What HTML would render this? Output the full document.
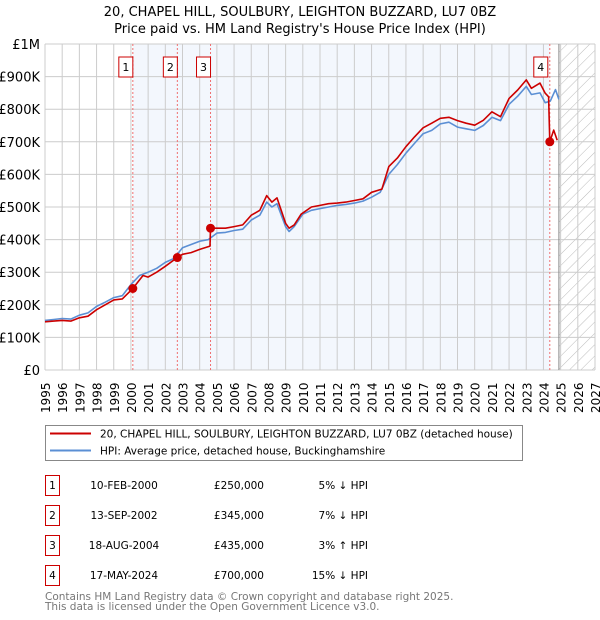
<!DOCTYPE html>
<html><head><meta charset="utf-8">
<style>
body{margin:0;background:#fff;font-family:"Liberation Sans","DejaVu Sans",sans-serif;}
#wrap{position:relative;width:600px;height:620px;overflow:hidden;}
svg text{font-family:"DejaVu Sans","Liberation Sans",sans-serif;}
</style></head>
<body><div id="wrap">
<svg id="svg" width="600" height="620" style="position:absolute;left:0;top:0"></svg>
</div>
<script>
const yearTicks=[1995,1996,1997,1998,1999,2000,2001,2002,2003,2004,2005,2006,2007,2008,2009,2010,2011,2012,2013,2014,2015,2016,2017,2018,2019,2020,2021,2022,2023,2024,2025,2026,2027];
const valueTicks=[0,100000,200000,300000,400000,500000,600000,700000,800000,900000,1000000];
const valueTickLabels=["£0","£100K","£200K","£300K","£400K","£500K","£600K","£700K","£800K","£900K","£1M"];
const hpiYears=[1995,1995.5,1996,1996.5,1997,1997.5,1998,1998.5,1999,1999.5,2000,2000.5,2001,2001.5,2002,2002.5,2003,2003.5,2004,2004.5,2005,2005.5,2006,2006.5,2007,2007.5,2007.9,2008.2,2008.5,2009,2009.2,2009.5,2010,2010.5,2011,2011.5,2012,2012.5,2013,2013.5,2014,2014.5,2015,2015.5,2016,2016.5,2017,2017.5,2018,2018.5,2019,2019.5,2020,2020.5,2021,2021.5,2022,2022.5,2023,2023.3,2023.8,2024.1,2024.4,2024.7,2024.9];
const hpiValues=[152000,155000,158000,156000,168000,175000,195000,208000,222000,228000,262000,290000,300000,312000,330000,342000,375000,385000,395000,400000,420000,422000,428000,432000,460000,475000,515000,500000,510000,440000,425000,440000,478000,490000,495000,500000,505000,508000,512000,518000,530000,545000,600000,630000,665000,695000,725000,735000,755000,760000,745000,740000,735000,750000,775000,765000,815000,840000,870000,845000,850000,820000,825000,860000,830000];
const redYears=[1995,1995.5,1996,1996.5,1997,1997.5,1998,1998.5,1999,1999.5,2000.11,2000.7,2001,2001.5,2002,2002.7,2003,2003.5,2004,2004.6,2004.63,2005,2005.5,2006,2006.5,2007,2007.5,2007.9,2008.2,2008.5,2009,2009.2,2009.5,2009.9,2010.5,2011,2011.5,2012,2012.5,2013,2013.5,2014,2014.6,2015,2015.5,2016,2016.5,2017,2017.5,2018,2018.5,2019,2019.5,2020,2020.5,2021,2021.5,2022,2022.5,2023,2023.3,2023.8,2024.1,2024.3,2024.37,2024.6,2024.8];
const redValues=[148000,150000,152000,150000,160000,165000,185000,200000,215000,218000,250000,290000,285000,300000,318000,345000,355000,360000,370000,380000,435000,435000,435000,440000,445000,475000,490000,535000,515000,528000,450000,435000,445000,478000,500000,505000,510000,512000,515000,520000,525000,545000,555000,624000,650000,685000,715000,743000,757000,772000,775000,765000,757000,751000,766000,792000,777000,833000,859000,890000,864000,880000,849000,838000,700000,736000,705000];
const saleLabels=["1","2","3","4"];
const saleYears=[2000.11,2002.70,2004.63,2024.37];
const saleValues=[250000,345000,435000,700000];

const L=45,R=595,T=44,B=370,Y0=1995,Y1=2027;
const xs=y=>L+(y-Y0)/(Y1-Y0)*(R-L);
const ys=v=>B-v/1000000*(B-T);
const svg=document.getElementById('svg');
const NS='http://www.w3.org/2000/svg';
function mk(tag,attrs,parent){const e=document.createElementNS(NS,tag);for(const k in attrs)e.setAttribute(k,attrs[k]);(parent||svg).appendChild(e);return e;}

const defs=mk('defs',{});
const pat=mk('pattern',{id:'hatch',width:8,height:8,patternUnits:'userSpaceOnUse',patternTransform:'rotate(45)'},defs);
mk('line',{x1:0,y1:0,x2:0,y2:8,stroke:'#bbb','stroke-width':1},pat);

let t=mk('text',{x:300,y:16,'text-anchor':'middle','font-size':13,fill:'#000'});t.textContent='20, CHAPEL HILL, SOULBURY, LEIGHTON BUZZARD, LU7 0BZ';

t=mk('text',{x:300,y:33,'text-anchor':'middle','font-size':13,fill:'#000'});t.textContent="Price paid vs. HM Land Registry's House Price Index (HPI)";


let r=mk('rect',{x:xs(saleYears[0]),y:T,width:xs(saleYears[3])-xs(saleYears[0]),height:B-T,fill:'#eef3fc',opacity:0.7});

r=mk('rect',{x:xs(2024.9),y:T,width:R-xs(2024.9),height:B-T,fill:'url(#hatch)'});


yearTicks.forEach(y=>{const l=mk('line',{x1:xs(y),x2:xs(y),y1:T,y2:B,stroke:'#ccc','stroke-width':1});

const s=String(y);const px=xs(y)+5;
const xsList=[],ysList=[];
for(let i=0;i<s.length;i++){xsList.push(px.toFixed(1));ysList.push((413-i*7.65).toFixed(1));}
const tx=mk('text',{x:xsList.join(' '),y:ysList.join(' '),rotate:'-90','font-size':12,fill:'#000'});tx.textContent=s;

});
valueTicks.forEach((v,i)=>{const l=mk('line',{x1:L,x2:R,y1:ys(v),y2:ys(v),stroke:'#ccc','stroke-width':1});

const tx=mk('text',{x:40,y:ys(v)+5,'text-anchor':'end','font-size':13,fill:'#000'});tx.textContent=valueTickLabels[i];
});
let vl=mk('line',{x1:xs(2024.9),x2:xs(2024.9),y1:T,y2:B,stroke:'#888','stroke-width':1});


saleYears.forEach((y,i)=>{const l=mk('line',{x1:xs(y),x2:xs(y),y1:T,y2:B,stroke:'#f07070','stroke-width':1,'stroke-dasharray':'2,2'});
});

function path(xa,va,color,name){const d=xa.map((y,i)=>(i?'L':'M')+xs(y).toFixed(1)+','+ys(va[i]).toFixed(1)).join('');
const p=mk('path',{d,fill:'none',stroke:color,'stroke-width':1.6,'stroke-linejoin':'round'});
}
path(hpiYears,hpiValues,'#5b8fd4','hpi-line');
path(redYears,redValues,'#cc0000','price-paid-line');

saleYears.forEach((y,i)=>{const c=mk('circle',{cx:xs(y),cy:ys(saleValues[i]),r:4.5,fill:'#cc0000'});

const g=mk('g',{});
const off=i===3?-2:0;
mk('rect',{x:xs(y)-14+off,y:57,width:14,height:20,fill:'#fff',stroke:'#cc0000','stroke-width':1},g);
const tx=mk('text',{x:xs(y)-7+off,y:71,'text-anchor':'middle','font-size':11,fill:'#000'},g);tx.textContent=saleLabels[i];});

const lg=mk('g',{});
mk('rect',{x:45.5,y:425.5,width:477,height:35,fill:'#fff',stroke:'#888','stroke-width':1},lg);
mk('line',{x1:50,x2:91,y1:433.5,y2:433.5,stroke:'#cc0000','stroke-width':2},lg);
mk('line',{x1:50,x2:91,y1:450.5,y2:450.5,stroke:'#5b8fd4','stroke-width':2},lg);
t=mk('text',{x:100,y:437.5,'font-size':10.5,fill:'#000'},lg);t.textContent='20, CHAPEL HILL, SOULBURY, LEIGHTON BUZZARD, LU7 0BZ (detached house)';

t=mk('text',{x:100,y:454.5,'font-size':10.5,fill:'#000'},lg);t.textContent='HPI: Average price, detached house, Buckinghamshire';


const dates=["10-FEB-2000","13-SEP-2002","18-AUG-2004","17-MAY-2024"];
const prices=["£250,000","£345,000","£435,000","£700,000"];
const rels=["5% ↓ HPI","7% ↓ HPI","3% ↑ HPI","15% ↓ HPI"];
dates.forEach((d,i)=>{const y=485+i*30;const g=mk('g',{});
mk('rect',{x:45.5,y:y-9.5,width:14,height:20,fill:'#fff',stroke:'#cc0000','stroke-width':1},g);
let a=mk('text',{x:52.5,y:y+4,'text-anchor':'middle','font-size':10.5},g);a.textContent=saleLabels[i];
a=mk('text',{x:124,y:y+4,'text-anchor':'middle','font-size':10.5},g);a.textContent=d;
a=mk('text',{x:264,y:y+4,'text-anchor':'end','font-size':10.5},g);a.textContent=prices[i];
a=mk('text',{x:368,y:y+4,'text-anchor':'end','font-size':10.5},g);a.textContent=rels[i];});
t=mk('text',{x:45,y:600,'font-size':10.5,fill:'#777'});t.textContent='Contains HM Land Registry data © Crown copyright and database right 2025.';

t=mk('text',{x:45,y:610,'font-size':10.5,fill:'#777'});t.textContent='This data is licensed under the Open Government Licence v3.0.';

</script></body></html>
